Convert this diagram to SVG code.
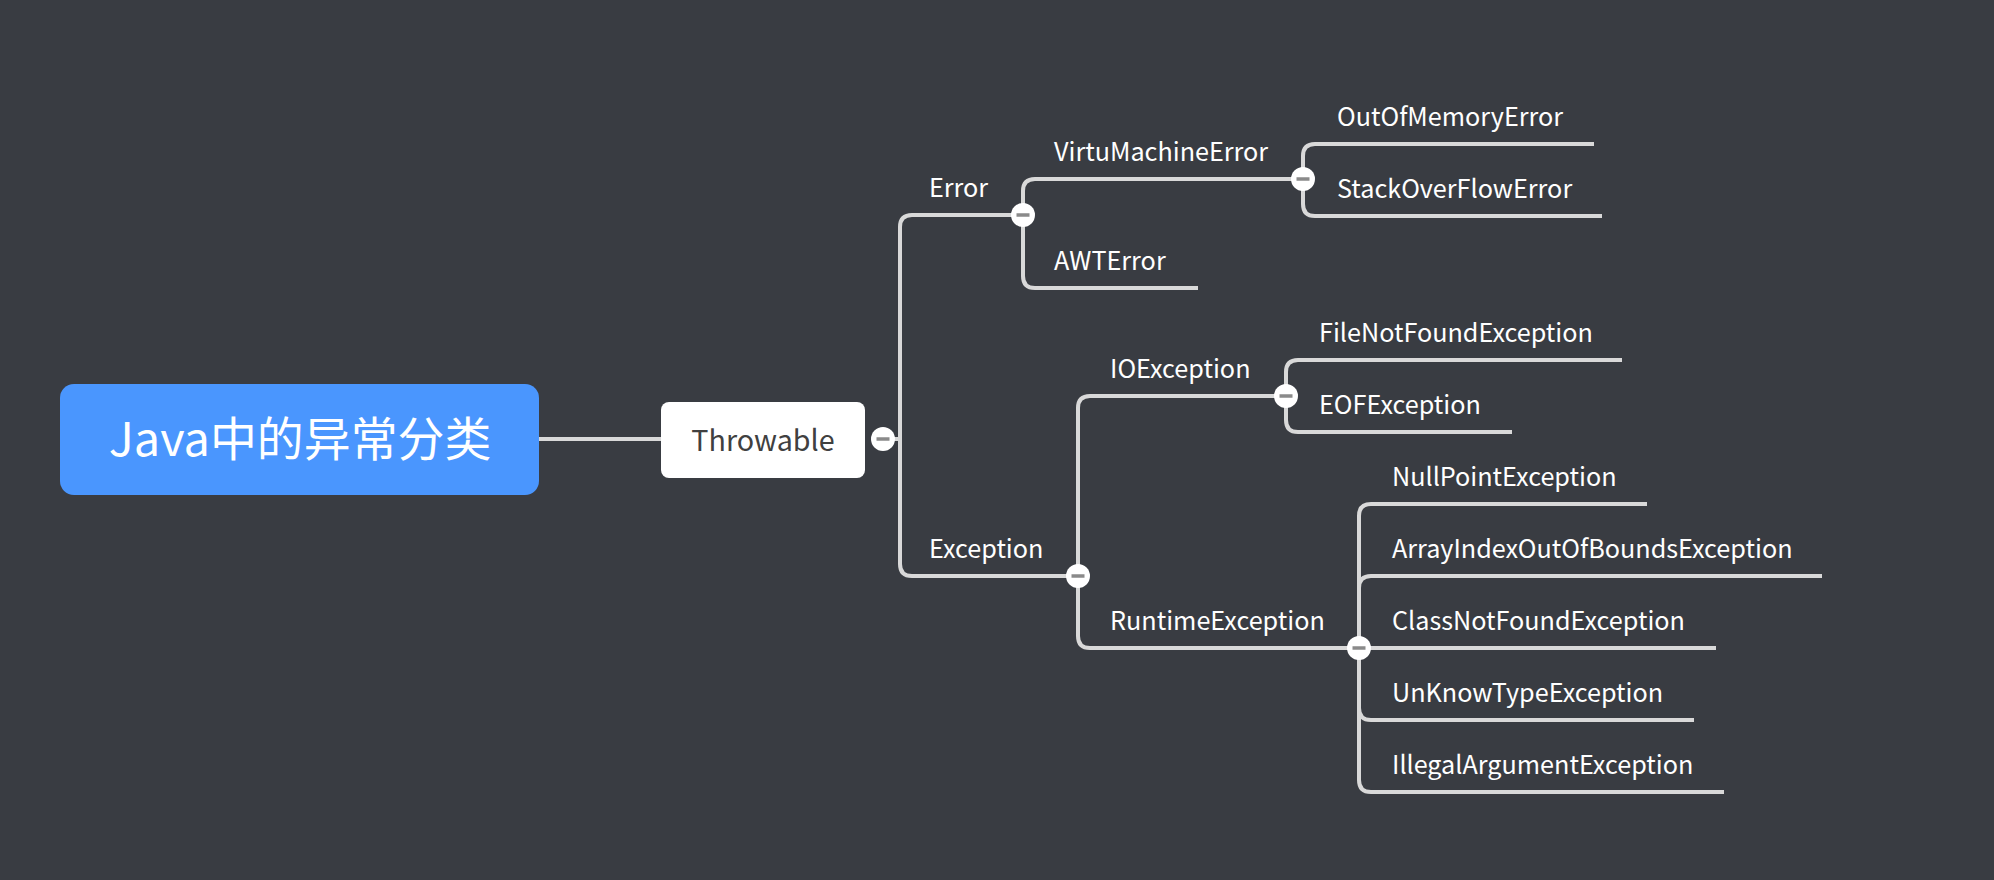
<svg xmlns="http://www.w3.org/2000/svg" width="1994" height="880" viewBox="0 0 1994 880">
<defs>
<style>
.bg{fill:#393c42}
.conn{fill:none;stroke:#d9d9d9;stroke-width:4;stroke-linecap:butt}
.lbl{font-family:"Noto Sans CJK SC","Noto Sans",sans-serif;font-size:25.2px;fill:#ffffff}
</style>
<g id="toggle">
<circle cx="0" cy="0" r="12" fill="#ffffff"/>
<rect x="-6.5" y="-1.75" width="13" height="3.5" fill="#8a8a8a"/>
</g>
</defs>
<rect class="bg" x="0" y="0" width="1994" height="880"/>
<g id="connectors">
<path class="conn" d="M539 439 H661"/>
<path class="conn" d="M883 439 H900 V227 Q900 215 912 215 H1023"/>
<path class="conn" d="M883 439 H900 V564 Q900 576 912 576 H1078"/>
<path class="conn" d="M1023 215 V191 Q1023 179 1035 179 H1303"/>
<path class="conn" d="M1023 215 V276 Q1023 288 1035 288 H1198"/>
<path class="conn" d="M1303 179 V156 Q1303 144 1315 144 H1594"/>
<path class="conn" d="M1303 179 V204 Q1303 216 1315 216 H1602"/>
<path class="conn" d="M1078 576 V408 Q1078 396 1090 396 H1286"/>
<path class="conn" d="M1078 576 V636 Q1078 648 1090 648 H1359"/>
<path class="conn" d="M1286 396 V372 Q1286 360 1298 360 H1622"/>
<path class="conn" d="M1286 396 V420 Q1286 432 1298 432 H1512"/>
<path class="conn" d="M1359 648 V516 Q1359 504 1371 504 H1647"/>
<path class="conn" d="M1359 648 V588 Q1359 576 1371 576 H1822"/>
<path class="conn" d="M1359 648 H1716"/>
<path class="conn" d="M1359 648 V708 Q1359 720 1371 720 H1694"/>
<path class="conn" d="M1359 648 V780 Q1359 792 1371 792 H1724"/>
</g>
<g id="node-root">
<rect x="60" y="384" width="479" height="111" rx="14" fill="#4a96fe"/>
<text x="300" y="456" text-anchor="middle" font-family="'Noto Sans CJK SC','Noto Sans',sans-serif" font-size="46.9" fill="#ffffff">Java中的异常分类</text>
</g>
<g id="node-throwable">
<rect x="661" y="402" width="204" height="76" rx="8" fill="#ffffff"/>
<text x="763" y="451" text-anchor="middle" font-family="'Noto Sans CJK SC','Noto Sans',sans-serif" font-size="28.7" fill="#404040">Throwable</text>
<use href="#toggle" x="883" y="439"/>
</g>
<g id="node-error">
<text class="lbl" x="929" y="197">Error</text>
<use href="#toggle" x="1023" y="215"/>
</g>
<g id="node-virtumachineerror">
<text class="lbl" x="1054" y="161">VirtuMachineError</text>
<use href="#toggle" x="1303" y="179"/>
</g>
<g id="node-outofmemoryerror"><text class="lbl" x="1337" y="126">OutOfMemoryError</text></g>
<g id="node-stackoverflowerror"><text class="lbl" x="1337" y="198">StackOverFlowError</text></g>
<g id="node-awterror"><text class="lbl" x="1054" y="270">AWTError</text></g>
<g id="node-exception">
<text class="lbl" x="929" y="558">Exception</text>
<use href="#toggle" x="1078" y="576"/>
</g>
<g id="node-ioexception">
<text class="lbl" x="1110" y="378">IOException</text>
<use href="#toggle" x="1286" y="396"/>
</g>
<g id="node-filenotfoundexception"><text class="lbl" x="1319" y="342">FileNotFoundException</text></g>
<g id="node-eofexception"><text class="lbl" x="1319" y="414">EOFException</text></g>
<g id="node-runtimeexception">
<text class="lbl" x="1110" y="630">RuntimeException</text>
<use href="#toggle" x="1359" y="648"/>
</g>
<g id="node-nullpointexception"><text class="lbl" x="1392" y="486">NullPointException</text></g>
<g id="node-arrayindexoutofboundsexception"><text class="lbl" x="1392" y="558">ArrayIndexOutOfBoundsException</text></g>
<g id="node-classnotfoundexception"><text class="lbl" x="1392" y="630">ClassNotFoundException</text></g>
<g id="node-unknowtypeexception"><text class="lbl" x="1392" y="702">UnKnowTypeException</text></g>
<g id="node-illegalargumentexception"><text class="lbl" x="1392" y="774">IllegalArgumentException</text></g>
</svg>
